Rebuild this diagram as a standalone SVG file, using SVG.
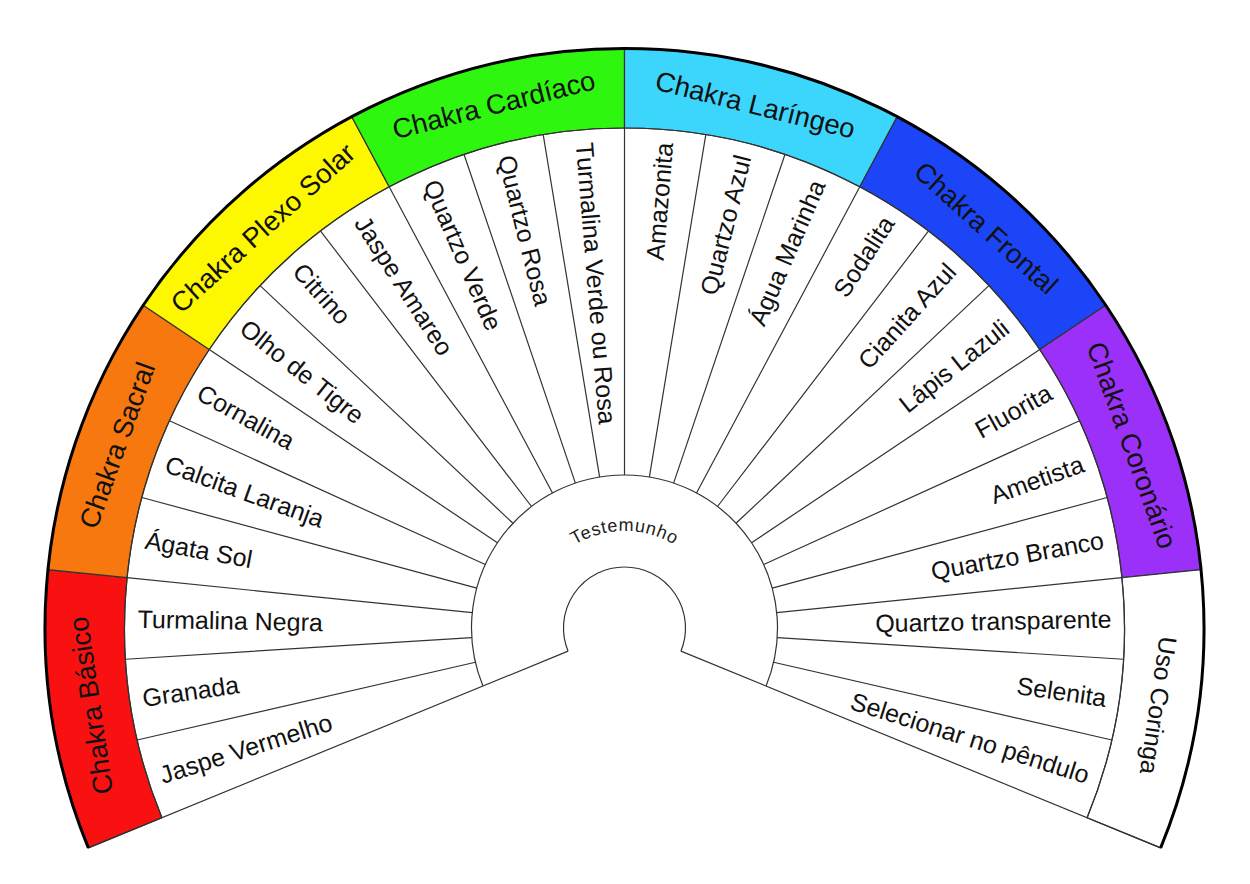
<svg xmlns="http://www.w3.org/2000/svg" width="1250" height="884" viewBox="0 0 1250 884">
<style>
.band{stroke:#333;stroke-width:1.2}
.div{stroke:#333;stroke-width:1.2;fill:none}
.bl{font-family:"Liberation Sans",Arial,sans-serif;font-size:27.5px;fill:#111;text-anchor:middle}
.sl{font-family:"Liberation Sans",Arial,sans-serif;font-size:25px;fill:#111;text-anchor:start}
.sr{font-family:"Liberation Sans",Arial,sans-serif;font-size:25px;fill:#111;text-anchor:end}
.tm{font-family:"Liberation Sans",Arial,sans-serif;font-size:18px;fill:#222;letter-spacing:0.7px}
</style>
<defs>
<path id="tpath" d="M 527.5 628 A 97 97 0 0 1 721.5 628"/>
</defs>
<rect width="1250" height="884" fill="#fff"/>
<g id="bands">
<g id="band-basico"><path class="band" fill="#f91111" d="M 88.34 847.9 A 579.5 579.5 0 0 1 47.94 569.69 L 127.04 577.69 A 500 500 0 0 0 161.9 817.73 Z"/><text class="bl" transform="translate(90.35 705.57) rotate(-98.26)" dy="0.36em">Chakra Básico</text></g>
<g id="band-sacral"><path class="band" fill="#f6780e" d="M 47.94 569.69 A 579.5 579.5 0 0 1 143.23 305.21 L 209.25 349.49 A 500 500 0 0 0 127.04 577.69 Z"/><text class="bl" transform="translate(116.7 445.05) rotate(-70.19)" dy="0.36em">Chakra Sacral</text></g>
<g id="band-plexo"><path class="band" fill="#fdf800" d="M 143.23 305.21 A 579.5 579.5 0 0 1 351.77 116.68 L 389.19 186.83 A 500 500 0 0 0 209.25 349.49 Z"/><text class="bl" transform="translate(262.55 227.6) rotate(-42.11)" dy="0.36em">Chakra Plexo Solar</text></g>
<g id="band-cardiaco"><path class="band" fill="#2ef60e" d="M 351.77 116.68 A 579.5 579.5 0 0 1 624.5 48.5 L 624.5 128 A 500 500 0 0 0 389.19 186.83 Z"/><text class="bl" transform="translate(493.58 104.37) rotate(-14.04)" dy="0.36em">Chakra Cardíaco</text></g>
<g id="band-laringeo"><path class="band" fill="#3cd6fc" d="M 624.5 48.5 A 579.5 579.5 0 0 1 897.23 116.68 L 859.81 186.83 A 500 500 0 0 0 624.5 128 Z"/><text class="bl" transform="translate(755.42 104.37) rotate(14.04)" dy="0.36em">Chakra Laríngeo</text></g>
<g id="band-frontal"><path class="band" fill="#1b45f6" d="M 897.23 116.68 A 579.5 579.5 0 0 1 1105.77 305.21 L 1039.75 349.49 A 500 500 0 0 0 859.81 186.83 Z"/><text class="bl" transform="translate(986.45 227.6) rotate(42.11)" dy="0.36em">Chakra Frontal</text></g>
<g id="band-coronario"><path class="band" fill="#9b30f8" d="M 1105.77 305.21 A 579.5 579.5 0 0 1 1201.06 569.69 L 1121.96 577.69 A 500 500 0 0 0 1039.75 349.49 Z"/><text class="bl" transform="translate(1132.3 445.05) rotate(70.19)" dy="0.36em">Chakra Coronário</text></g>
<g id="band-coringa"><path class="band" fill="#fff" d="M 1201.06 569.69 A 579.5 579.5 0 0 1 1160.66 847.9 L 1087.1 817.73 A 500 500 0 0 0 1121.96 577.69 Z"/><text class="bl" style="font-size:25px" transform="translate(1158.65 705.57) rotate(98.26)" dy="0.36em">Uso Coringa</text></g>
</g>
<g id="connectors">
<path class="div" d="M 161.9 817.73 A 500 500 0 1 1 1087.1 817.73"/>
<path class="div" d="M 482.94 686.06 A 153 153 0 1 1 766.06 686.06"/>
<path class="div" d="M 568.06 651.15 A 61 61 0 1 1 680.94 651.15"/>
<path class="div" d="M 568.06 651.15 L 88.34 847.9 M 680.94 651.15 L 1160.66 847.9"/>
<path class="div" d="M 475.39 662.27 L 137.2 739.98 M 471.8 637.56 L 125.48 659.25 M 472.28 612.6 L 127.04 577.69 M 476.81 588.06 L 141.84 497.47 M 485.27 564.57 L 169.49 420.72 M 497.43 542.78 L 209.25 349.49 M 512.98 523.25 L 260.07 285.67 M 531.5 506.51 L 320.58 231.03 M 552.49 493 L 389.19 186.83 M 575.4 483.09 L 464.06 154.44 M 599.62 477.04 L 543.2 134.66 M 624.5 475 L 624.5 128"/>
<path class="div" d="M 649.38 477.04 L 705.8 134.66 M 673.6 483.09 L 784.94 154.44 M 696.51 493 L 859.81 186.83 M 717.5 506.51 L 928.42 231.03 M 736.02 523.25 L 988.93 285.67 M 751.57 542.78 L 1039.75 349.49 M 763.73 564.57 L 1079.51 420.72 M 772.19 588.06 L 1107.16 497.47 M 776.72 612.6 L 1121.96 577.69 M 777.2 637.56 L 1123.52 659.25 M 773.61 662.27 L 1111.8 739.98"/>
<path d="M 88.34 847.9 A 579.5 579.5 0 1 1 1160.66 847.9" fill="none" stroke="#000" stroke-width="3"/>
</g>
<g id="testemunho"><text class="tm"><textPath href="#tpath" startOffset="50%" text-anchor="middle">Testemunho</textPath></text></g>
<g id="stones">
<g id="s0"><text class="sl" transform="translate(160.35 775.42) rotate(-17.62)" dy="0.36em">Jaspe Vermelho</text></g>
<g id="s1"><text class="sl" transform="translate(142.56 697.99) rotate(-8.26)" dy="0.36em">Granada</text></g>
<g id="s2"><text class="sl" transform="translate(137.59 618.69) rotate(1.1)" dy="0.36em">Turmalina Negra</text></g>
<g id="s3"><text class="sl" transform="translate(145.58 539.63) rotate(10.45)" dy="0.36em">Ágata Sol</text></g>
<g id="s4"><text class="sl" transform="translate(166.33 462.93) rotate(19.81)" dy="0.36em">Calcita Laranja</text></g>
<g id="s5"><text class="sl" transform="translate(199.27 390.63) rotate(29.17)" dy="0.36em">Cornalina</text></g>
<g id="s6"><text class="sl" transform="translate(243.52 324.64) rotate(38.53)" dy="0.36em">Olho de Tigre</text></g>
<g id="s7"><text class="sl" transform="translate(297.92 266.73) rotate(47.89)" dy="0.36em">Citrino</text></g>
<g id="s8"><text class="sl" transform="translate(361.01 218.43) rotate(57.25)" dy="0.36em">Jaspe Amareo</text></g>
<g id="s9"><text class="sl" transform="translate(431.12 181.04) rotate(66.6)" dy="0.36em">Quartzo Verde</text></g>
<g id="s10"><text class="sl" transform="translate(506.37 155.54) rotate(75.96)" dy="0.36em">Quartzo Rosa</text></g>
<g id="s11"><text class="sl" transform="translate(584.77 142.62) rotate(85.32)" dy="0.36em">Turmalina Verde ou Rosa</text></g>
<g id="s12"><text class="sr" transform="translate(664.23 142.62) rotate(-85.32)" dy="0.36em">Amazonita</text></g>
<g id="s13"><text class="sr" transform="translate(742.63 155.54) rotate(-75.96)" dy="0.36em">Quartzo Azul</text></g>
<g id="s14"><text class="sr" transform="translate(817.88 181.04) rotate(-66.6)" dy="0.36em">Água Marinha</text></g>
<g id="s15"><text class="sr" transform="translate(887.99 218.43) rotate(-57.25)" dy="0.36em">Sodalita</text></g>
<g id="s16"><text class="sr" transform="translate(951.08 266.73) rotate(-47.89)" dy="0.36em">Cianita Azul</text></g>
<g id="s17"><text class="sr" transform="translate(1005.48 324.64) rotate(-38.53)" dy="0.36em">Lápis Lazuli</text></g>
<g id="s18"><text class="sr" transform="translate(1049.73 390.63) rotate(-29.17)" dy="0.36em">Fluorita</text></g>
<g id="s19"><text class="sr" transform="translate(1082.67 462.93) rotate(-19.81)" dy="0.36em">Ametista</text></g>
<g id="s20"><text class="sr" transform="translate(1103.42 539.63) rotate(-10.45)" dy="0.36em">Quartzo Branco</text></g>
<g id="s21"><text class="sr" transform="translate(1111.41 618.69) rotate(-1.1)" dy="0.36em">Quartzo transparente</text></g>
<g id="s22"><text class="sr" transform="translate(1106.44 697.99) rotate(8.26)" dy="0.36em">Selenita</text></g>
<g id="s23"><text class="sr" transform="translate(1088.65 775.42) rotate(17.62)" dy="0.36em">Selecionar no pêndulo</text></g>
</g>
</svg>
